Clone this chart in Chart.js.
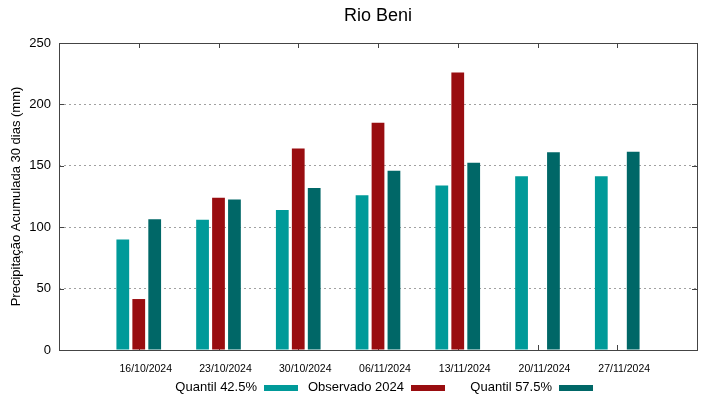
<!DOCTYPE html>
<html>
<head>
<meta charset="utf-8">
<script src="https://cdn.jsdelivr.net/npm/chart.js@4.4.1/dist/chart.umd.min.js"></script>
<style>
  html, body { margin: 0; padding: 0; background: #fff; }
  #wrap { width: 719px; height: 399px; }
</style>
</head>
<body>
<div id="wrap"><canvas id="chart" width="719" height="399"></canvas></div>
<script>
// Rio Beni - precipitação acumulada 30 dias
const chartTitle = "Rio Beni";
const dates = ["16/10/2024", "23/10/2024", "30/10/2024", "06/11/2024", "13/11/2024", "20/11/2024", "27/11/2024"];
const quantil425 = [90, 106, 114, 126, 134, 141.5, 141.5];
const observado2024 = [41.5, 124, 164, 185, 226, null, null];
const quantil575 = [106.5, 122.5, 132, 146, 152.5, 161, 161.5];
const yTicks = [0, 50, 100, 150, 200, 250];

// gnuplot style: empty slot on each side of the dates
const pad = (arr) => [null, ...arr, null];
const labels = ["", ...dates, ""];

const fontFamily = "'Liberation Sans', Arial, sans-serif";
const frameColor = "#444444";

// border box + inward tick marks, drawn under the bars
const frameTicks = {
	id: "frameTicks",
	beforeDatasetsDraw(chart) {
		const { ctx, chartArea: a, scales } = chart;
		ctx.save();
		ctx.strokeStyle = frameColor;
		ctx.lineWidth = 1;
		ctx.beginPath();
		for (let i = 1; i <= dates.length; i++) {
			const x = Math.round(scales.x.getPixelForTick(i)) + 0.5;
			ctx.moveTo(x, a.bottom);
			ctx.lineTo(x, a.bottom - 5);
			ctx.moveTo(x, a.top);
			ctx.lineTo(x, a.top + 5);
		}
		yTicks.forEach((v) => {
			const y = Math.round(scales.y.getPixelForValue(v)) + 0.5;
			ctx.moveTo(a.left, y);
			ctx.lineTo(a.left + 5, y);
			ctx.moveTo(a.right, y);
			ctx.lineTo(a.right - 5, y);
		});
		ctx.stroke();
		ctx.restore();
	},
	afterDraw(chart) {
		const { ctx, chartArea: a } = chart;
		ctx.save();
		ctx.strokeStyle = frameColor;
		ctx.lineWidth = 1;
		ctx.strokeRect(Math.round(a.left) + 0.5, Math.round(a.top) + 0.5,
			Math.round(a.right - a.left), Math.round(a.bottom - a.top));
		// title centred over the plot area
		ctx.font = "18px " + fontFamily;
		ctx.fillStyle = "#000";
		ctx.textAlign = "center";
		ctx.textBaseline = "middle";
		ctx.fillText(chartTitle, (a.left + a.right) / 2, 16);
		ctx.restore();
	},
};

// legend: text then a colour bar, like gnuplot
const gnuLegend = {
	id: "gnuLegend",
	afterDraw(chart) {
		const { ctx } = chart;
		const textRight = [257, 404, 552];
		const y = 387;
		ctx.save();
		ctx.font = "13px " + fontFamily;
		ctx.fillStyle = "#000";
		ctx.textAlign = "right";
		ctx.textBaseline = "middle";
		chart.data.datasets.forEach((ds, i) => {
			const x = textRight[i];
			ctx.fillText(ds.label, x, y);
			ctx.fillStyle = ds.backgroundColor;
			ctx.fillRect(x + 7, y - 2, 34, 6);
			ctx.fillStyle = "#000";
		});
		ctx.restore();
	},
};

new Chart(document.getElementById("chart"), {
	type: "bar",
	data: {
		labels: labels,
		datasets: [
			{
				label: "Quantil 42.5%",
				data: pad(quantil425),
				backgroundColor: "#009a99",
			},
			{
				label: "Observado 2024",
				data: pad(observado2024),
				backgroundColor: "#990d10",
			},
			{
				label: "Quantil 57.5%",
				data: pad(quantil575),
				backgroundColor: "#006767",
			},
		],
	},
	options: {
		responsive: false,
		animation: false,
		categoryPercentage: 0.6,
		barPercentage: 0.8,
		layout: { padding: { left: 0, right: 22, top: 43, bottom: 0 } },
		scales: {
			x: {
				offset: false,
				grid: { display: false },
				border: { display: false },
				ticks: {
					color: "#000",
					font: { family: fontFamily, size: 10.5 },
					padding: 5,
					labelOffset: 7,
					maxRotation: 0,
					autoSkip: false,
				},
				afterFit: (scale) => { scale.height = 49; },
			},
			y: {
				min: 0,
				max: 250,
				ticks: {
					stepSize: 50,
					color: "#000",
					font: { family: fontFamily, size: 13 },
					padding: 8,
				},
				grid: {
					drawTicks: false,
					color: (ctx) => (ctx.tick && (ctx.tick.value === 0 || ctx.tick.value === 250)) ? "rgba(0,0,0,0)" : "#a0a0a0",
				},
				border: { display: false, dash: [2, 3] },
				title: {
					display: true,
					text: "Precipitação Acumulada 30 dias (mm)",
					color: "#000",
					font: { family: fontFamily, size: 13 },
					padding: { top: 9, bottom: 0 },
				},
				afterFit: (scale) => { scale.width = 59; },
			},
		},
		plugins: {
			legend: { display: false },
			tooltip: { enabled: false },
			title: { display: false },
		},
	},
	plugins: [frameTicks, gnuLegend],
});
</script>
</body>
</html>
